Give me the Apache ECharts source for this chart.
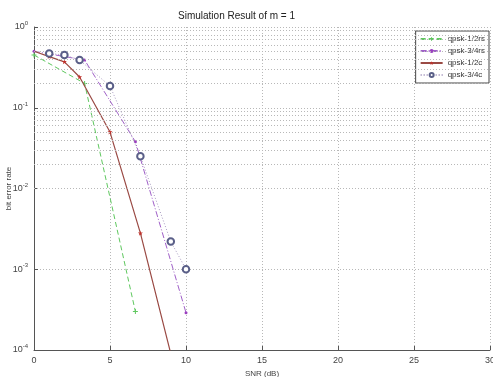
<!DOCTYPE html>
<html>
<head>
<meta charset="utf-8">
<script src="https://cdn.jsdelivr.net/npm/echarts@6/dist/echarts.min.js"></script>
<style>
  html, body { margin: 0; padding: 0; background: #fff; }
  #chart { width: 493px; height: 377px; }
</style>
</head>
<body>
<div id="chart"></div>
<script>
var seriesNames = ['qpsk-1/2rs', 'qpsk-3/4rs', 'qpsk-1/2c', 'qpsk-3/4c'];

// SNR (dB) / bit error rate
var snrRs12 = [0, 3.33, 6.67];
var berRs12 = [0.45, 0.2, 0.0003];

var snrRs34 = [0, 3.33, 6.67, 10];
var berRs34 = [0.5, 0.39, 0.038, 0.00029];

var snrC12 = [0, 1, 2, 3, 5, 7, 9];
var berC12 = [0.5, 0.43, 0.37, 0.24, 0.05, 0.0028, 0.00009];

var snrC34 = [1, 2, 3, 5, 7, 9, 10];
var berC34 = [0.47, 0.45, 0.39, 0.186, 0.025, 0.0022, 0.001];

var minorMult = [2, 3, 4, 5, 6, 7, 8, 9];
var decades = [1e-4, 1e-3, 1e-2, 1e-1];

function pairs(xs, ys) {
    var out = [];
    xs.forEach(function (x, i) {
        out.push([x, ys[i]]);
    });
    return out;
}

var minorLines = [];
decades.forEach(function (d) {
    minorMult.forEach(function (m) {
        minorLines.push({ yAxis: d * m });
    });
});

var chart = echarts.init(document.getElementById('chart'));
var gridStyle = { color: '#b8b8b8', type: [1, 2], width: 1 };

var option = {
    animation: false,
    backgroundColor: '#fff',
    title: {
        text: 'Simulation Result of m = 1',
        left: 173,
        top: 6,
        textStyle: { fontSize: 10, fontWeight: 'normal', color: '#222', fontFamily: 'Liberation Sans' }
    },
    legend: {
        data: seriesNames,
        orient: 'vertical',
        right: 4,
        top: 31,
        itemWidth: 22,
        itemHeight: 5,
        itemGap: 4,
        padding: [4, 4, 4, 4],
        borderColor: '#444',
        borderWidth: 1,
        backgroundColor: '#fff',
        textStyle: { fontSize: 8, color: '#333', fontFamily: 'Liberation Sans' }
    },
    grid: { left: 34, right: 3, top: 27, bottom: 27, containLabel: false, outerBoundsMode: 'none' },
    xAxis: {
        type: 'value',
        min: 0,
        max: 30,
        interval: 5,
        name: 'SNR (dB)',
        nameLocation: 'middle',
        nameGap: 19,
        nameTextStyle: { fontSize: 8, color: '#444', fontFamily: 'Liberation Sans' },
        axisLine: { show: true, lineStyle: { color: '#555' } },
        axisTick: { inside: true, length: 4, lineStyle: { color: '#555' } },
        axisLabel: { fontSize: 9, color: '#444', margin: 6, fontFamily: 'Liberation Sans' },
        splitLine: { show: true, lineStyle: gridStyle }
    },
    yAxis: {
        type: 'log',
        logBase: 10,
        min: 1e-4,
        max: 1,
        name: 'bit error rate',
        nameLocation: 'middle',
        nameRotate: 90,
        nameGap: 21,
        nameMoveOverlap: false,
        nameTextStyle: { fontSize: 8, color: '#444', fontFamily: 'Liberation Sans' },
        axisLine: { show: true, lineStyle: { color: '#555' } },
        axisTick: { inside: true, length: 4, lineStyle: { color: '#555' } },
        axisLabel: {
            margin: 6,
            formatter: function (v) {
                return '{b|10}{s|' + Math.round(Math.log10(v)) + '}';
            },
            rich: {
                b: { fontSize: 9, color: '#444', fontFamily: 'Liberation Sans' },
                s: { fontSize: 6, color: '#444', verticalAlign: 'top', padding: [0, 0, 7, 0], fontFamily: 'Liberation Sans' }
            }
        },
        splitLine: { show: true, lineStyle: gridStyle }
    },
    series: [
        {
            name: seriesNames[0],
            type: 'line',
            data: pairs(snrRs12, berRs12),
            symbol: 'path://M4,0h2v4h4v2h-4v4h-2v-4h-4v-2h4z',
            symbolSize: 5,
            itemStyle: { color: '#5fc85f' },
            lineStyle: { color: '#5fc85f', width: 1, type: [5, 3] },
            markLine: {
                silent: true,
                symbol: 'none',
                label: { show: false },
                lineStyle: gridStyle,
                data: minorLines
            },
            z: 3
        },
        {
            name: seriesNames[1],
            type: 'line',
            data: pairs(snrRs34, berRs34),
            symbol: 'circle',
            symbolSize: 3,
            itemStyle: { color: '#9b3fbf' },
            lineStyle: { color: '#a060c8', width: 1, type: [6, 2, 1, 2] },
            z: 3
        },
        {
            name: seriesNames[2],
            type: 'line',
            data: pairs(snrC12, berC12).map(function (p, i) {
                return i === 0 ? { value: p, symbol: 'none' } : p;
            }),
            symbol: 'path://M5,0L6,3.5L10,3.5L7,6L8,10L5,7.5L2,10L3,6L0,3.5L4,3.5Z',
            symbolSize: 5,
            itemStyle: { color: '#c0302a' },
            lineStyle: { color: '#9a4a44', width: 1.2 },
            z: 4
        },
        {
            name: seriesNames[3],
            type: 'line',
            data: pairs(snrC34, berC34),
            symbol: 'emptyCircle',
            symbolSize: 6.5,
            itemStyle: { color: '#5a5f88', borderWidth: 0.9 },
            lineStyle: { color: '#a89ac0', width: 1, type: [1, 2] },
            z: 5
        }
    ]
};

chart.setOption(option);
</script>
</body>
</html>
